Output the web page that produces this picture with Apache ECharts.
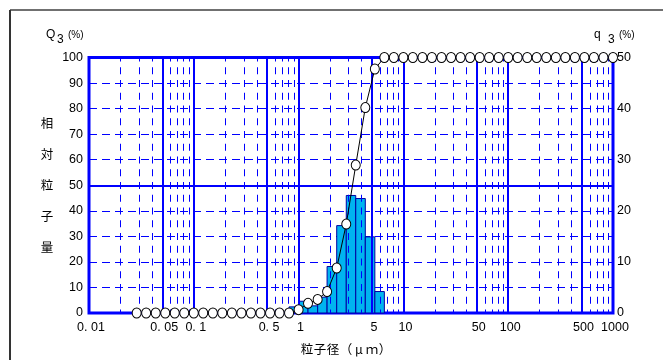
<!DOCTYPE html>
<html>
<head>
<meta charset="utf-8">
<script src="https://cdn.jsdelivr.net/npm/echarts@6/dist/echarts.min.js"></script>
<style>html,body{margin:0;padding:0;background:#fff}#c{width:663px;height:360px}</style>
</head>
<body>
<div id="c"></div>
<script>
// Particle sizes (µm) of the cumulative curve points
const sizes = [0.0285, 0.0351, 0.0433, 0.0534, 0.0658, 0.0811, 0.100, 0.123, 0.152, 0.187,
  0.231, 0.285, 0.351, 0.433, 0.534, 0.658, 0.811, 1.00, 1.23, 1.52,
  1.87, 2.31, 2.85, 3.51, 4.33, 5.34, 6.58, 8.11, 10.0, 12.3,
  15.2, 18.7, 23.1, 28.5, 35.1, 43.3, 53.4, 65.8, 81.1, 100,
  123, 152, 187, 231, 285, 351, 433, 534, 658, 811, 1000];
// Cumulative Q3 (%)
const cumulative = [0, 0, 0, 0, 0, 0, 0, 0, 0, 0,
  0, 0, 0, 0, 0, 0, 0, 1.3, 3.8, 5.3,
  8.4, 17.6, 34.8, 57.9, 80.4, 95.5, 100, 100, 100, 100,
  100, 100, 100, 100, 100, 100, 100, 100, 100, 100,
  100, 100, 100, 100, 100, 100, 100, 100, 100, 100, 100];
// Frequency q3 (%) histogram bins
const binLow  = [0.811, 1.00, 1.23, 1.52, 1.87, 2.31, 2.85, 3.51, 4.33, 5.34];
const binHigh = [1.00, 1.23, 1.52, 1.87, 2.31, 2.85, 3.51, 4.33, 5.34, 6.58];
const q3Values = [1.2, 2.3, 1.4, 3.1, 9.1, 17.1, 23.0, 22.4, 14.9, 4.2];
// Axis ticks / labels
const xTickValues = [0.01, 0.05, 0.1, 0.5, 1, 5, 10, 50, 100, 500, 1000];
const xTickLabels = ['0. 01', '0. 05', '0. 1', '0. 5', '1', '5', '10', '50', '100', '500', '1000'];
const xMajorGrid = [0.05, 0.1, 0.5, 1, 5, 10, 50, 100, 500];
const xMinorGrid = [0.02, 0.03, 0.04, 0.06, 0.07, 0.08, 0.09,
  0.2, 0.3, 0.4, 0.6, 0.7, 0.8, 0.9,
  2, 3, 4, 6, 7, 8, 9,
  20, 30, 40, 60, 70, 80, 90,
  200, 300, 400, 600, 700, 800, 900];
const leftAxisMax = 100, leftAxisStep = 10;
const rightAxisMax = 50, rightAxisStep = 10;
const yMajorGrid = [50];
const xTitleChars = ['粒', '子', '径', '（', 'μ', 'ｍ', '）'];
const yTitle = '相\n対\n粒\n子\n量';

const BLUE = '#0000ff';
const NUM_FONT = '"Liberation Sans", Arial, sans-serif';
const JP_FONT = '"Noto Sans CJK JP", sans-serif';

const chart = echarts.init(document.getElementById('c'), null, {renderer: 'canvas'});

const option = {
  animation: false,
  backgroundColor: '#fff',
  grid: {
    left: 89, right: 50, top: 57.5, bottom: 47,
    show: true, borderColor: BLUE, borderWidth: 3, backgroundColor: '#fff',
    outerBoundsMode: 'none', containLabel: false
  },
  xAxis: {
    type: 'log', logBase: 10, min: 0.01, max: 1000,
    axisLine: {show: false}, axisTick: {show: false},
    axisLabel: {show: false}, splitLine: {show: false}, minorSplitLine: {show: false}
  },
  yAxis: [{
    type: 'value', min: 0, max: leftAxisMax, interval: leftAxisStep,
    position: 'left',
    axisLine: {show: false}, axisTick: {show: false},
    axisLabel: {show: true, margin: 6, color: '#000', fontSize: 12.5, fontFamily: NUM_FONT},
    splitLine: {show: true, lineStyle: {color: BLUE, width: 1, type: [8, 5]}}
  }, {
    type: 'value', min: 0, max: rightAxisMax, interval: rightAxisStep,
    position: 'right',
    axisLine: {show: false}, axisTick: {show: false},
    axisLabel: {show: true, margin: 4, color: '#000', fontSize: 12.5, fontFamily: NUM_FONT},
    splitLine: {show: false}
  }],
  series: [{
    type: 'line', name: 'grid', data: [], z: 1, silent: true,
    xAxisIndex: 0, yAxisIndex: 0,
    markLine: {
      silent: true, animation: false, symbol: ['none', 'none'],
      label: {show: false}, emphasis: {disabled: true},
      data: [].concat(
        xMinorGrid.map(v => ({xAxis: v, lineStyle: {type: [7, 5.75], dashOffset: 3.5, width: 1, color: BLUE}})),
        xMajorGrid.map(v => ({xAxis: v, lineStyle: {type: 'solid', width: 2, color: BLUE}})),
        yMajorGrid.map(v => ({yAxis: v, lineStyle: {type: 'solid', width: 2, color: BLUE}}))
      )
    }
  }, {
    type: 'custom', name: 'q3', z: 3, silent: true,
    xAxisIndex: 0, yAxisIndex: 1,
    data: binLow.map((l, i) => [l, binHigh[i], q3Values[i]]),
    encode: {x: [0, 1], y: 2},
    renderItem: function (params, api) {
      const a = api.coord([api.value(0), api.value(2)]);
      const b = api.coord([api.value(1), 0]);
      return {
        type: 'rect',
        shape: {x: a[0], y: a[1], width: b[0] - a[0], height: b[1] - a[1]},
        style: {fill: '#00B4F0', stroke: '#0000A0', lineWidth: 1}
      };
    }
  }, {
    type: 'line', name: 'Q3', z: 5, silent: true,
    xAxisIndex: 0, yAxisIndex: 0,
    data: sizes.map((s, i) => [s, cumulative[i]]),
    showAllSymbol: true,
    symbol: 'circle', symbolSize: [9, 10],
    itemStyle: {color: '#fff', borderColor: '#000', borderWidth: 1},
    lineStyle: {color: '#000', width: 1}
  }]
};
chart.setOption(option);

const baseY = chart.convertToPixel({yAxisIndex: 0}, 0);
const graphics = [
  {type: 'line', shape: {x1: 10, y1: 10, x2: 663, y2: 10}, style: {stroke: '#707070', lineWidth: 2}},
  {type: 'line', shape: {x1: 10, y1: 10, x2: 10, y2: 360}, style: {stroke: '#333', lineWidth: 2}},
  {type: 'text', x: 46, y: 35, style: {text: 'Q', fontSize: 12, fontFamily: NUM_FONT, fill: '#000', verticalAlign: 'middle'}},
  {type: 'text', x: 57, y: 40, style: {text: '3', fontSize: 12, fontFamily: NUM_FONT, fill: '#000', verticalAlign: 'middle'}},
  {type: 'text', x: 68, y: 35, style: {text: '(%)', fontSize: 10, fontFamily: NUM_FONT, fill: '#000', verticalAlign: 'middle'}},
  {type: 'text', x: 594, y: 35, style: {text: 'q', fontSize: 12, fontFamily: NUM_FONT, fill: '#000', verticalAlign: 'middle'}},
  {type: 'text', x: 608, y: 40, style: {text: '3', fontSize: 12, fontFamily: NUM_FONT, fill: '#000', verticalAlign: 'middle'}},
  {type: 'text', x: 619, y: 35, style: {text: '(%)', fontSize: 10, fontFamily: NUM_FONT, fill: '#000', verticalAlign: 'middle'}},
  {type: 'text', x: 47, y: 108, style: {text: yTitle, fontSize: 12.5, lineHeight: 31, fontFamily: JP_FONT, fill: '#000', align: 'center', verticalAlign: 'top'}}
];
// x-axis title, one glyph per full-width cell (13 px)
const cell = 13;
const titleCenter = 346;
xTitleChars.forEach((ch, i) => {
  graphics.push({
    type: 'text',
    x: titleCenter + (i - (xTitleChars.length - 1) / 2) * cell,
    y: 349,
    style: {text: ch, fontSize: 12.5, fontFamily: JP_FONT, fill: '#000', align: 'center', verticalAlign: 'middle'}
  });
});
xTickValues.forEach((v, i) => {
  graphics.push({
    type: 'text',
    x: chart.convertToPixel({xAxisIndex: 0}, v) + 2,
    y: baseY + 15,
    style: {text: xTickLabels[i], fontSize: 12.5, fontFamily: NUM_FONT, fill: '#000', align: 'center', verticalAlign: 'middle'}
  });
});
chart.setOption({graphic: graphics});
</script>
</body>
</html>
